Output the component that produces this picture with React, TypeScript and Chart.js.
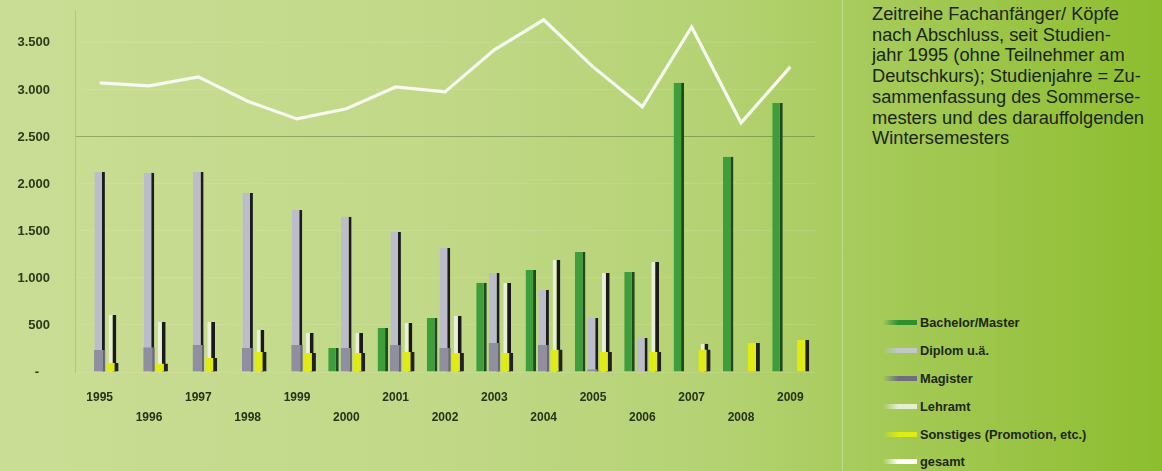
import React, { useEffect, useRef } from "react";
import { Chart, registerables } from "chart.js";

Chart.register(...registerables);

const years = ["1995", "1996", "1997", "1998", "1999", "2000", "2001", "2002", "2003", "2004", "2005", "2006", "2007", "2008", "2009"];
const bachelorMaster = [null, null, null, null, null, 255, 468, 575, 950, 1085, 1277, 1064, 3075, 2288, 2862];
const diplom = [2128, 2118, 2128, 1905, 1724, 1650, 1490, 1319, 1053, 872, 575, 362, null, null, null];
const magister = [234, 262, 287, 255, 287, 255, 287, 255, 309, 287, 30, null, null, null, null];
const lehramt = [606, 532, 532, 447, 415, 415, 521, 596, 947, 1192, 1053, 1170, 300, null, null];
const sonstiges = [95, 90, 150, 213, 202, 202, 213, 202, 202, 240, 213, 213, 240, 309, 340];
const gesamt = [3075, 3043, 3139, 2880, 2692, 2800, 3032, 2979, 3426, 3745, 3245, 2820, 3670, 2650, 3245];
const yTicks = [0, 500, 1000, 1500, 2000, 2500, 3000, 3500];

const seriesNames = ["Bachelor/Master", "Diplom u.ä.", "Magister", "Lehramt", "Sonstiges (Promotion, etc.)", "gesamt"];
const legendColors = ["#2f8f30", "#c3c7cc", "#6d6d7e", "#e6efd2", "#dcee10", "#ffffff"];
const noteLines = [
  "Zeitreihe Fachanfänger/ Köpfe",
  "nach Abschluss, seit Studien-",
  "jahr 1995 (ohne Teilnehmer am",
  "Deutschkurs); Studienjahre = Zu-",
  "sammenfassung des Sommerse-",
  "mesters und des darauffolgenden",
  "Wintersemesters",
];

const fmt = (v: number) => (v === 0 ? "-   " : String(v).replace(/\B(?=(\d{3})+(?!\d))/g, "."));

const sideBorder = { top: 0, right: 3, bottom: 0, left: 0 };

export default function App() {
  const ref = useRef<HTMLCanvasElement | null>(null);

  useEffect(() => {
    document.body.style.margin = "0";
    const canvas = ref.current;
    if (!canvas) return;
    const chart = new Chart(canvas, {
      type: "bar",
      data: {
        labels: years,
        datasets: [
          {
            type: "line",
            label: seriesNames[5],
            data: gesamt,
            borderColor: "#f7faee",
            borderWidth: 3.2,
            pointRadius: 0,
            tension: 0,
            order: 0,
          } as any,
          {
            label: seriesNames[0],
            data: bachelorMaster,
            backgroundColor: "#3f9e3c",
            borderColor: "#1e4a1e",
            borderWidth: sideBorder,
            borderSkipped: false,
            stack: "a",
            barPercentage: 0.82,
            order: 1,
          },
          {
            label: seriesNames[2],
            data: magister,
            backgroundColor: "#8f8f9f",
            borderColor: "#6a6a78",
            borderWidth: { top: 0, right: 2, bottom: 0, left: 0 },
            borderSkipped: false,
            stack: "b",
            barPercentage: 0.9,
            order: 2,
          },
          {
            label: seriesNames[1],
            data: diplom,
            backgroundColor: "#bcbccb",
            borderColor: "#1c1c1c",
            borderWidth: sideBorder,
            borderSkipped: false,
            stack: "b",
            barPercentage: 0.82,
            order: 3,
          },
          {
            label: seriesNames[4],
            data: sonstiges,
            backgroundColor: "#e0ea14",
            borderColor: "#202020",
            borderWidth: { top: 0, right: 4, bottom: 0, left: 0 },
            borderSkipped: false,
            stack: "c",
            barPercentage: 0.95,
            order: 4,
          },
          {
            label: seriesNames[3],
            data: lehramt,
            backgroundColor: "#e9f0d6",
            borderColor: "#1a1a1a",
            borderWidth: { top: 0, right: 4, bottom: 0, left: 0 },
            borderSkipped: false,
            stack: "c",
            barPercentage: 0.6,
            order: 5,
          },
        ],
      },
      options: {
        responsive: false,
        animation: false,
        layout: { padding: { top: 10, right: 25, left: 0, bottom: 0 } },
        plugins: {
          legend: { display: false },
          tooltip: { enabled: false },
        },
        datasets: { bar: { categoryPercentage: 0.78 } },
        scales: {
          x: {
            grid: { display: false, drawTicks: false },
            border: { display: false },
            ticks: {
              autoSkip: false,
              maxRotation: 0,
              padding: 16,
              color: "#27331a",
              font: { family: "Liberation Sans, Arial, sans-serif", size: 12, weight: "bold", lineHeight: 20 / 12 },
              callback: function (this: any, _v: any, i: number) {
                const l = years[i];
                return i % 2 === 1 ? ["", l] : l;
              },
            },
            afterFit: (s: any) => {
              s.height = 99;
            },
          },
          y: {
            stacked: false,
            min: 0,
            max: 3850,
            afterBuildTicks: (s: any) => {
              s.ticks = yTicks.map((v) => ({ value: v }));
            },
            grid: {
              drawTicks: false,
              color: (ctx: any) =>
                ctx.tick && ctx.tick.value === 2500 ? "rgba(80,105,45,0.45)" : "rgba(255,255,255,0.1)",
              lineWidth: 1,
            },
            border: { display: true, color: "rgba(160,180,110,0.55)" },
            ticks: {
              padding: 25,
              color: "#2b3a1c",
              font: { family: "Liberation Sans, Arial, sans-serif", size: 13, weight: "bold" },
              callback: (v: any) => fmt(Number(v)),
            },
            afterFit: (s: any) => {
              s.width = 75;
              s.paddingTop = 0;
              s.paddingBottom = 0;
            },
          },
        },
      },
    });
    return () => chart.destroy();
  }, []);

  return (
    <div
      style={{
        position: "relative",
        width: 1162,
        height: 471,
        overflow: "hidden",
        background: "linear-gradient(to right, #cadd95 0%, #c0d886 40%, #b4d272 62%, #a7cb5c 74%, #9cc548 86%, #8cbd2e 100%)",
        fontFamily: "Liberation Sans, Arial, sans-serif",
      }}
    >
      <canvas ref={ref} width={840} height={471} style={{ position: "absolute", left: 0, top: 0 }} />
      <div
        style={{
          position: "absolute",
          left: 842,
          top: 0,
          width: 1,
          height: 471,
          background: "rgba(255,255,255,0.3)",
        }}
      />
      <div
        style={{
          position: "absolute",
          left: 872,
          top: 4,
          fontSize: 18.3,
          lineHeight: "20.7px",
          color: "#1b2611",
          whiteSpace: "nowrap",
        }}
      >
        {noteLines.map((t, i) => (
          <div key={i}>{t}</div>
        ))}
      </div>
      <div style={{ position: "absolute", left: 883, top: 309 }}>
        {seriesNames.map((n, i) => (
          <div key={n} style={{ display: "flex", alignItems: "center", height: 27.8 }}>
            <div
              style={{
                width: 34,
                height: 5,
                background: `linear-gradient(to right, rgba(255,255,255,0) 0%, ${legendColors[i]} 45%, ${legendColors[i]} 100%)`,
              }}
            />
            <div
              style={{
                marginLeft: 3,
                fontSize: 12.8,
                fontWeight: "bold",
                color: "#1e2712",
                whiteSpace: "nowrap",
              }}
            >
              {n}
            </div>
          </div>
        ))}
      </div>
    </div>
  );
}
